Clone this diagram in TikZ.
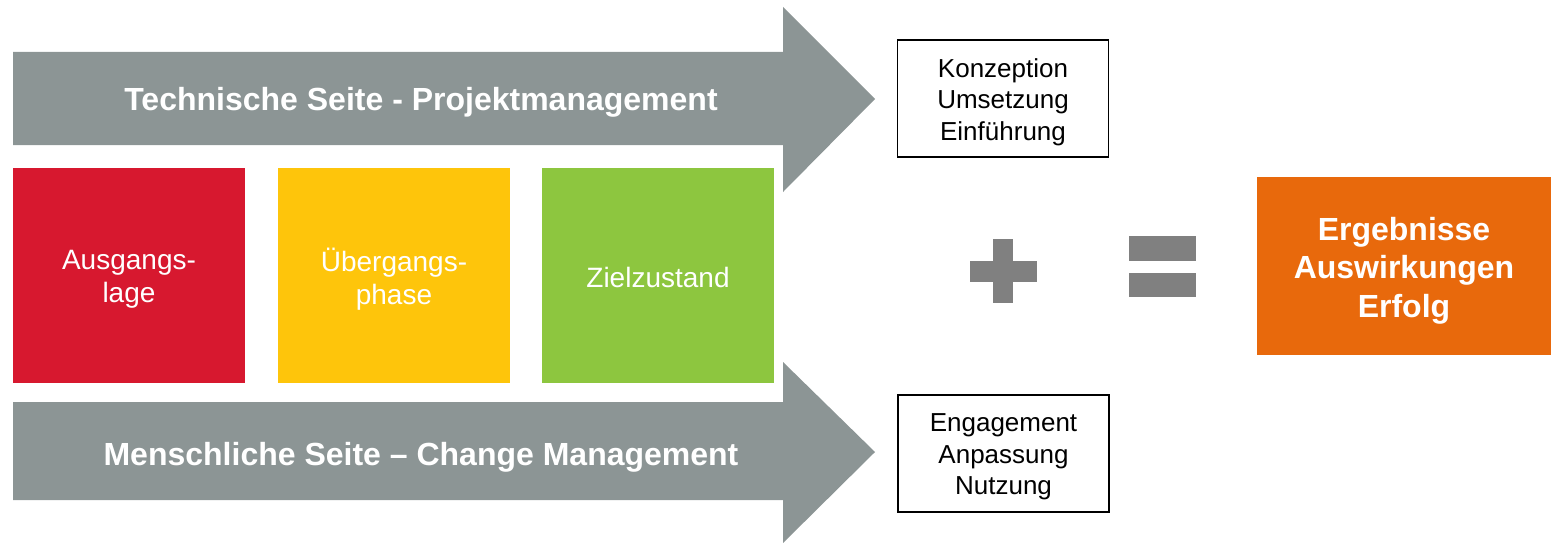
\documentclass[tikz,border=0pt]{standalone}
\usepackage{fontspec}
\setmainfont{Liberation Sans}
\definecolor{arrowgray}{RGB}{140,149,149}
\definecolor{symgray}{RGB}{128,128,128}
\definecolor{cred}{RGB}{215,24,47}
\definecolor{cyellow}{RGB}{254,197,11}
\definecolor{cgreen}{RGB}{141,198,63}
\definecolor{corange}{RGB}{232,105,12}
\begin{document}
\begin{tikzpicture}[x=1pt,y=-1pt,
  phase/.style={minimum width=232pt,minimum height=215pt,inner sep=0pt,outer sep=0pt},
  phasetext/.style={text=white,align=center,inner sep=0pt,font=\fontsize{28}{33}\selectfont},
  listbox/.style={draw=black,line width=1.4pt,fill=white,minimum width=211pt,minimum height=117pt,inner sep=0pt},
  listtext/.style={align=center,inner sep=0pt,font=\fontsize{26}{31.5}\selectfont},
  bigarrow/.style={fill=arrowgray},
  arrowtext/.style={text=white,font=\bfseries\fontsize{32}{38}\selectfont},
  resbox/.style={fill=corange,minimum width=294pt,minimum height=178pt,inner sep=0pt},
  restext/.style={text=white,align=center,inner sep=0pt,font=\bfseries\fontsize{32}{38.5}\selectfont},
  sym/.style={fill=symgray}]
\useasboundingbox (0,0) rectangle (1552,543);
% top arrow
\path[bigarrow] (13,52) -- (783,52) -- (783,7) -- (875,99) -- (783,192) -- (783,145) -- (13,145) -- cycle;
\node[arrowtext] (tech) at (421,102) {Technische Seite - Projektmanagement};
% bottom arrow
\path[bigarrow] (13,402) -- (783,402) -- (783,362) -- (875,452) -- (783,543) -- (783,500) -- (13,500) -- cycle;
\node[arrowtext] (mensch) at (421,457) {Menschliche Seite – Change Management};
% phases
\node[phase,fill=cred] (ausgang) at (129,275.5) {};
\node[phasetext] (ausgangt) at ([yshift=-4pt]ausgang.center) {Ausgangs-\\lage};
\node[phase,fill=cyellow] (uebergang) at (394,275.5) {};
\node[phasetext] (uebergangt) at ([yshift=-4pt]uebergang.center) {Übergangs-\\phase};
\node[phase,fill=cgreen] (ziel) at (658,275.5) {};
\node[phasetext] (zielt) at ([yshift=-1.5pt]ziel.center) {Zielzustand};
% list boxes
\node[listbox] (konz) at (1003,98.5) {};
\node[listtext] (konzt) at ([yshift=-3.5pt]konz.center) {Konzeption\\Umsetzung\\Einführung};
\node[listbox] (eng) at (1003.5,453.5) {};
\node[listtext] (engt) at ([yshift=-3.5pt]eng.center) {Engagement\\Anpassung\\Nutzung};
% plus
\path[sym] (970,261) rectangle (1037,282);
\path[sym] (993,239) rectangle (1013,303);
% equals
\path[sym] (1129,236) rectangle (1196,261);
\path[sym] (1129,273) rectangle (1196,297);
% result
\node[resbox] (erg) at (1404,266) {};
\node[restext] (ergt) at ([yshift=-4.5pt]erg.center) {Ergebnisse\\Auswirkungen\\Erfolg};
\end{tikzpicture}
\end{document}
